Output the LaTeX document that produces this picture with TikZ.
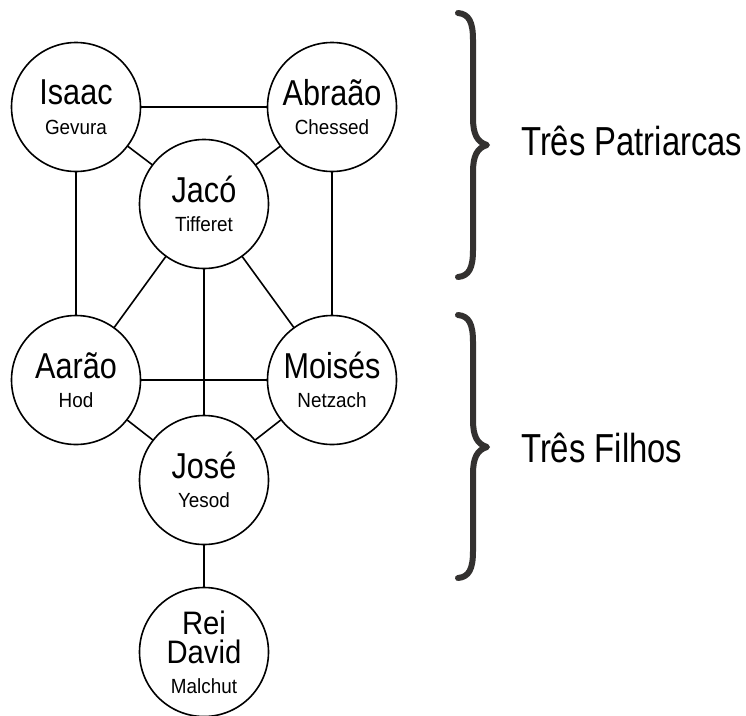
\documentclass[tikz,border=0pt]{standalone}
\usepackage{fontspec}
\setmainfont{Liberation Sans}
\newfontfamily\narrowfont[FakeStretch=0.81]{Liberation Sans}
\newfontfamily\namefont[FakeStretch=0.85]{Liberation Sans}
\newfontfamily\davidfont[FakeStretch=0.9]{Liberation Sans}
\newfontfamily\subfont[FakeStretch=0.92]{Liberation Sans}
\definecolor{bracegray}{HTML}{333130}
\newcommand\bigname[1]{{\namefont\fontsize{36}{36}\selectfont #1}}
\newcommand\davidname[1]{{\davidfont\fontsize{32.5}{32.5}\selectfont #1}}
\begin{document}
\begin{tikzpicture}[x=1pt,y=1pt,
  sef/.style={circle, draw, line width=1.6pt, minimum size=129pt, inner sep=0pt,
    align=center, fill=white, font=\subfont\fontsize{20.5}{29.5}\selectfont},
  conn/.style={line width=1.6pt},
  bracepath/.style={line width=6pt, draw=bracegray, line cap=round, line join=round},
  grouplabel/.style={anchor=west, inner sep=0pt, font=\narrowfont\fontsize{40.5}{40.5}\selectfont}
]
\useasboundingbox (0,0) rectangle (746,-715);

% node centres
\coordinate (cIsaac) at (76,-107);
\coordinate (cAbraao) at (332,-107);
\coordinate (cJaco) at (204,-204);
\coordinate (cAarao) at (76,-380);
\coordinate (cMoises) at (332,-380);
\coordinate (cJose) at (204,-480);
\coordinate (cDavid) at (204,-652);

% connectors (nodes are filled white on top)
\draw[conn] (cIsaac) -- (cAbraao);
\draw[conn] (cIsaac) -- (cJaco);
\draw[conn] (cAbraao) -- (cJaco);
\draw[conn] (cIsaac) -- (cAarao);
\draw[conn] (cAbraao) -- (cMoises);
\draw[conn] (cJaco) -- (cAarao);
\draw[conn] (cJaco) -- (cMoises);
\draw[conn] (cJaco) -- (cJose);
\draw[conn] (cAarao) -- (cMoises);
\draw[conn] (cAarao) -- (cJose);
\draw[conn] (cMoises) -- (cJose);
\draw[conn] (cJose) -- (cDavid);

\node[sef] (isaac) at (cIsaac) {\bigname{Isaac}\\Gevura};
\node[sef] (abraao) at (cAbraao) {\bigname{Abraão}\\Chessed};
\node[sef] (jaco) at (cJaco) {\bigname{Jacó}\\Tifferet};
\node[sef] (aarao) at (cAarao) {\bigname{Aarão}\\Hod};
\node[sef] (moises) at (cMoises) {\bigname{Moisés}\\Netzach};
\node[sef] (jose) at (cJose) {\bigname{José}\\Yesod};
\node[sef] (david) at (cDavid) {\davidname{Rei}\\\davidname{David}\\Malchut};

% braces
\draw[bracepath] (458,-13) .. controls (469,-14) and (473,-22) .. (473,-40)
  -- (473,-118) .. controls (473,-134) and (477,-142) .. (487,-145)
  .. controls (477,-148) and (473,-156) .. (473,-172)
  -- (473,-250) .. controls (473,-268) and (469,-276) .. (458,-277);
\draw[bracepath] (458,-315) .. controls (469,-316) and (473,-324) .. (473,-342)
  -- (473,-420) .. controls (473,-436) and (477,-444) .. (487,-447)
  .. controls (477,-450) and (473,-458) .. (473,-474)
  -- (473,-551) .. controls (473,-569) and (469,-577) .. (458,-578);

\node[grouplabel] (patriarcas) at (521,-141) {Três Patriarcas};
\node[grouplabel] (filhos) at (521,-448) {Três Filhos};
\end{tikzpicture}
\end{document}
